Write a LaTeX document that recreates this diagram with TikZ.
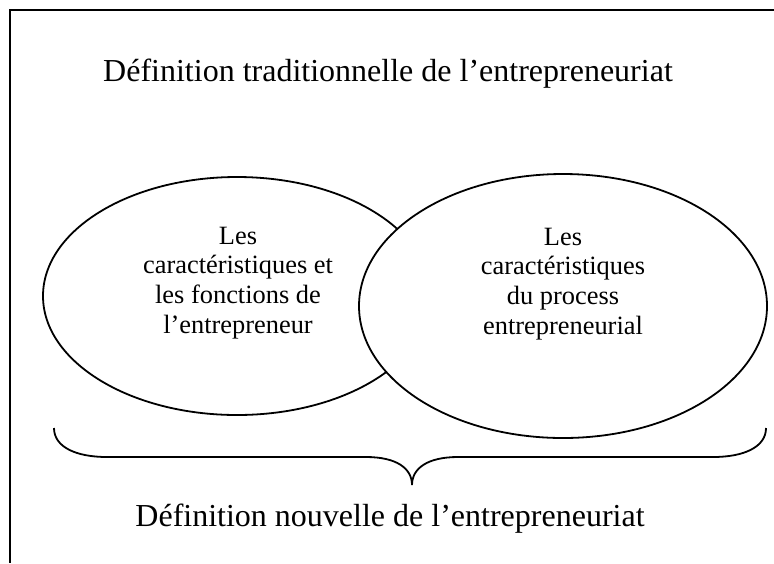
\documentclass[tikz,border=0pt]{standalone}
\usepackage{fontspec}
\setmainfont{Liberation Serif}
\usepackage{tikz}
\usetikzlibrary{shapes.geometric}
\tikzset{EL/.style={ellipse, draw, fill=white, line width=0.9pt, inner sep=0pt}}
\tikzset{TX/.style={align=center, inner sep=0pt, font=\fontsize{13.2}{14.85}\selectfont}}
\tikzset{TI/.style={anchor=base, inner sep=0pt, font=\fontsize{16}{19}\selectfont}}

\begin{document}
\begin{tikzpicture}[x=0.5pt, y=-0.5pt]
            \useasboundingbox (0,0) rectangle (774,563);
            % cadre
            \draw[line width=1pt] (774,9.5) -- (9.5,9.5) -- (9.5,563);
            \node[TI] (trad) at (388,81) {Définition traditionnelle de l’entrepreneuriat};
            % les deux ellipses
            \node[EL, minimum width=194pt, minimum height=119pt] (gauche) at (237,296) {};
            \node[EL, minimum width=204pt, minimum height=132pt] (droite) at (563,306) {};
            \node[TX] (tgauche) at (238,283) {Les\\caractéristiques et\\les fonctions de\\l’entrepreneur};
            \node[TX] (tdroite) at (563,284) {Les\\caractéristiques\\du process\\entrepreneurial};
            % accolade
            \coordinate (accG) at (54,428);
            \coordinate (accD) at (766,428);
            \coordinate (pointe) at (412,485);
            \draw[line width=0.9pt] (accG) .. controls (54,447) and (76,457) .. (107,457)
                -- (366,457) .. controls (396,457) and (412,468) .. (pointe)
                .. controls (412,468) and (428,457) .. (458,457)
                -- (713,457) .. controls (744,457) and (766,447) .. (accD);
            \node[TI] (nouv) at (390,526) {Définition nouvelle de l’entrepreneuriat};
        \end{tikzpicture}
\end{document}
